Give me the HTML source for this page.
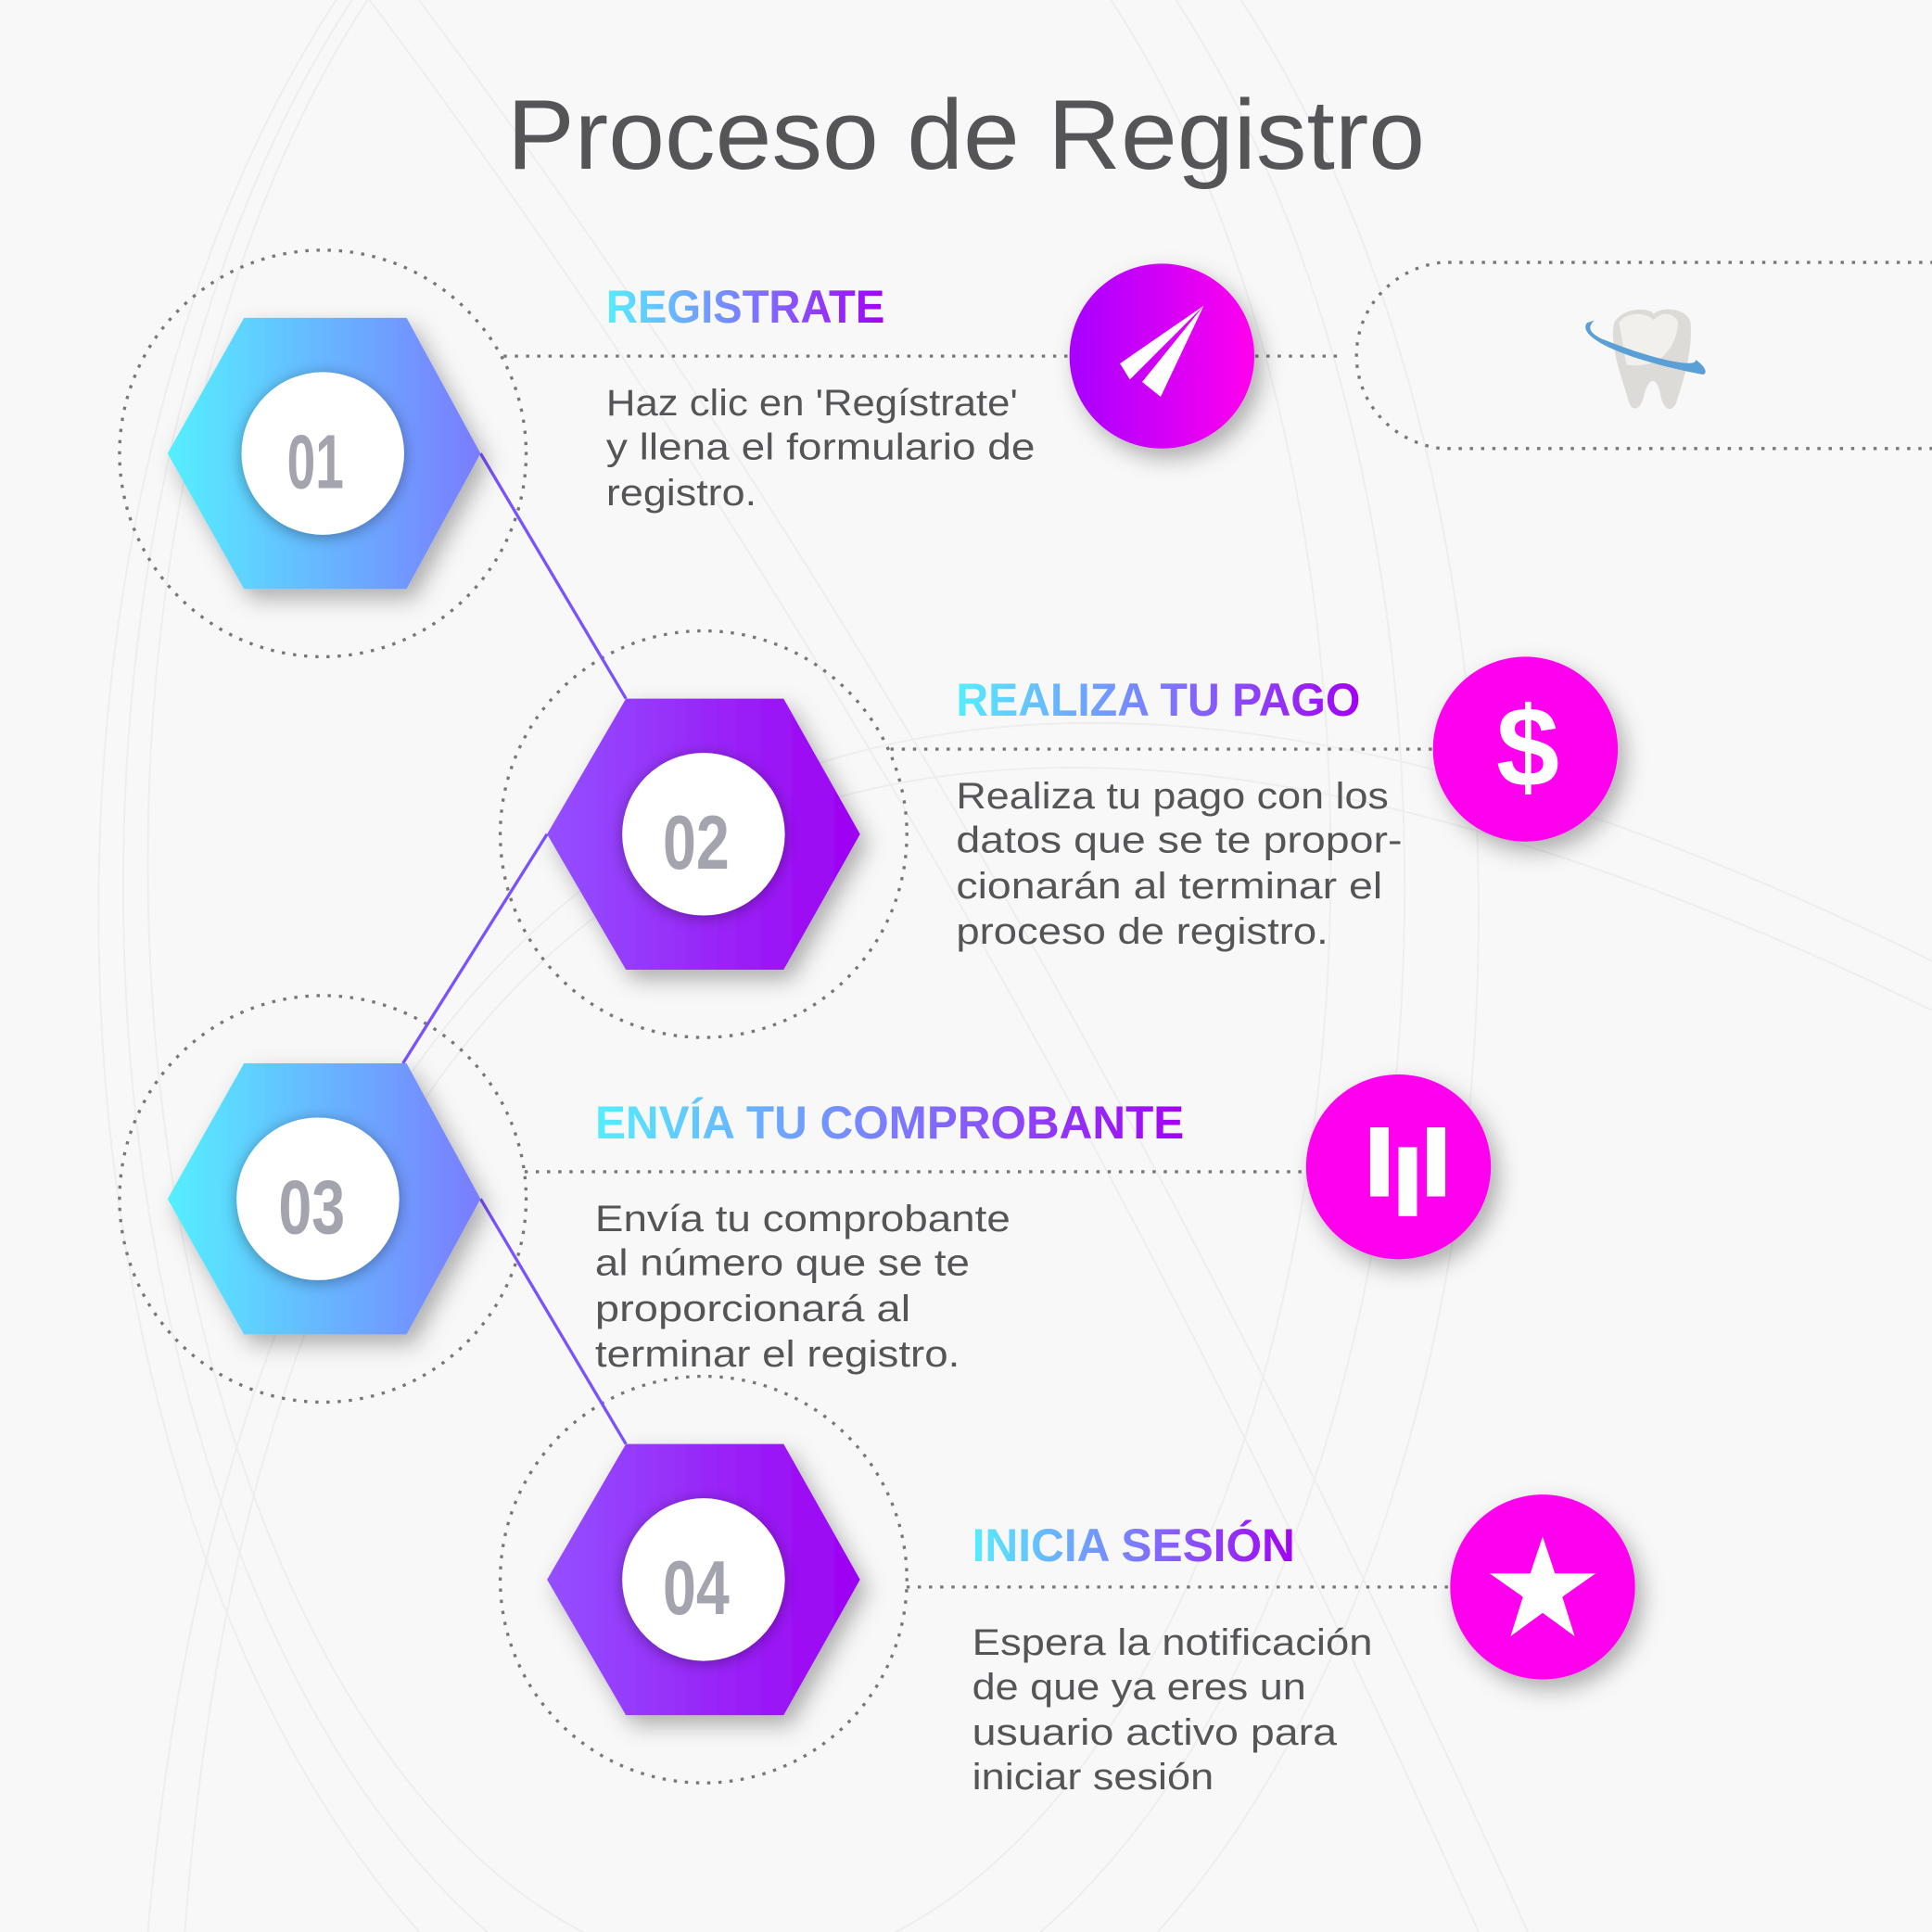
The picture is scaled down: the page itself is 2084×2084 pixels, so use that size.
<!DOCTYPE html>
<html><head><meta charset="utf-8">
<style>html,body{margin:0;padding:0;background:#f8f8f8;width:2084px;height:2084px;overflow:hidden;}svg{display:block;}</style>
</head><body>
<svg width="2084" height="2084" viewBox="0 0 1568 1568" xmlns="http://www.w3.org/2000/svg" font-family="Liberation Sans, DejaVu Sans, sans-serif">
<defs>
<linearGradient id="gb" x1="0" x2="1" y1="0" y2="0"><stop offset="0" stop-color="#55efff"/><stop offset="1" stop-color="#7a7cff"/></linearGradient>
<linearGradient id="gp" x1="0" x2="1" y1="0" y2="0"><stop offset="0" stop-color="#9350ff"/><stop offset="1" stop-color="#9e00f2"/></linearGradient>
<linearGradient id="gt" x1="0" x2="1" y1="0" y2="0"><stop offset="0" stop-color="#55eeff"/><stop offset="0.5" stop-color="#7b7cff"/><stop offset="1" stop-color="#a300f5"/></linearGradient>
<linearGradient id="gc" x1="0" x2="1" y1="0" y2="0"><stop offset="0" stop-color="#a800ff"/><stop offset="1" stop-color="#ff00ee"/></linearGradient>
<filter id="sh" x="-40%" y="-40%" width="180%" height="180%"><feDropShadow dx="6" dy="8" stdDeviation="9" flood-color="#000" flood-opacity="0.3"/></filter>
<filter id="sh2" x="-40%" y="-40%" width="180%" height="180%"><feDropShadow dx="0" dy="2" stdDeviation="6" flood-color="#000" flood-opacity="0.35"/></filter>
<linearGradient id="gt2" gradientUnits="userSpaceOnUse" x1="776" x2="1104"><stop offset="0" stop-color="#55eeff"/><stop offset="0.5" stop-color="#7b7cff"/><stop offset="1" stop-color="#a300f5"/></linearGradient>
<linearGradient id="gt3" gradientUnits="userSpaceOnUse" x1="483" x2="961"><stop offset="0" stop-color="#55eeff"/><stop offset="0.5" stop-color="#7b7cff"/><stop offset="1" stop-color="#a300f5"/></linearGradient>
<linearGradient id="gt4" gradientUnits="userSpaceOnUse" x1="789" x2="1051"><stop offset="0" stop-color="#55eeff"/><stop offset="0.5" stop-color="#7b7cff"/><stop offset="1" stop-color="#a300f5"/></linearGradient>
</defs>
<rect width="1568" height="1568" fill="#f8f8f8"/>
<g fill="none" stroke="#eeeeee" stroke-width="1.5">
<ellipse cx="600" cy="700" rx="480" ry="900"/>
<ellipse cx="620" cy="720" rx="520" ry="940"/>
<ellipse cx="640" cy="740" rx="560" ry="980"/>
<path d="M150 1568 C 200 900, 500 300, 1568 820"/>
<path d="M120 1568 C 180 880, 520 260, 1568 780"/>
<path d="M300 0 C 600 400, 900 900, 1200 1568"/>
<path d="M340 0 C 640 400, 940 900, 1240 1568"/>
</g>
<text x="784" y="137" text-anchor="middle" font-size="80" fill="#555558" textLength="745" lengthAdjust="spacingAndGlyphs">Proceso de Registro</text>

<g fill="none" stroke="#777" stroke-width="2.5" stroke-dasharray="0.1 9" stroke-linecap="square">
<circle cx="262" cy="368" r="165"/>
<circle cx="571" cy="677" r="165"/>
<circle cx="262" cy="973" r="165"/>
<circle cx="571" cy="1282" r="165"/>
<line x1="410" y1="289" x2="868" y2="289"/>
<line x1="1020" y1="289" x2="1092" y2="289"/>
<path d="M1568 213 L1170 213 A78 76 0 0 0 1170 364 L1568 364"/>
<line x1="724" y1="608" x2="1165" y2="608"/>
<line x1="427" y1="951" x2="1062" y2="951"/>
<line x1="737" y1="1288" x2="1178" y2="1288"/>
</g>

<g stroke="#7b52ff" stroke-width="2.5">
<line x1="390" y1="368" x2="508" y2="567"/>
<line x1="444" y1="677" x2="327" y2="863"/>
<line x1="390" y1="973" x2="508" y2="1172"/>
</g>

<g filter="url(#sh)">
<polygon points="136,368 198,258 330,258 390,368 330,478 198,478" fill="url(#gb)"/>
<polygon points="444,677 508,567 636,567 698,677 636,787 508,787" fill="url(#gp)"/>
<polygon points="136,973 198,863 330,863 390,973 330,1083 198,1083" fill="url(#gb)"/>
<polygon points="444,1282 508,1172 636,1172 698,1282 636,1392 508,1392" fill="url(#gp)"/>
</g>
<g filter="url(#sh2)" fill="#fff">
<circle cx="262" cy="368" r="66"/>
<circle cx="571" cy="677" r="66"/>
<circle cx="258" cy="973" r="66"/>
<circle cx="571" cy="1282" r="66"/>
</g>
<g fill="#a4a4ae" font-size="62" font-weight="bold" text-anchor="middle" font-family="Liberation Sans Narrow, Liberation Sans, sans-serif">
<text x="256" y="396" textLength="46" lengthAdjust="spacingAndGlyphs">01</text>
<text x="565" y="705" textLength="54" lengthAdjust="spacingAndGlyphs">02</text>
<text x="253" y="1001" textLength="54" lengthAdjust="spacingAndGlyphs">03</text>
<text x="565" y="1310" textLength="54" lengthAdjust="spacingAndGlyphs">04</text>
</g>

<g filter="url(#sh)">
<circle cx="943" cy="289" r="75" fill="url(#gc)"/>
<circle cx="1238" cy="608" r="75" fill="#ff00ee"/>
<circle cx="1135" cy="947" r="75" fill="#ff00ee"/>
<circle cx="1252" cy="1288" r="75" fill="#ff00ee"/>
</g>
<g fill="#fff">
<polygon points="977,248 909,295 917,308 965,260"/>
<polygon points="977,248 942,322 927,310"/>
<rect x="1112" y="915" width="15" height="56"/>
<rect x="1135" y="931" width="15" height="56"/>
<rect x="1158" y="915" width="15" height="56"/>
<polygon points="1252,1247 1262,1277 1295,1277 1268,1296 1278,1328 1252,1309 1226,1328 1236,1296 1209,1277 1242,1277"/>
</g>
<text x="1240" y="638" text-anchor="middle" font-size="92" font-weight="bold" fill="#fff">$</text>

<g>
<path d="M1310 262 C1318 248 1340 250 1342 255 C1348 248 1370 250 1372 262 C1374 285 1366 310 1360 328 C1356 335 1350 332 1348 322 C1345 305 1338 305 1334 322 C1331 334 1324 334 1322 326 C1316 306 1306 280 1310 262 Z" fill="#dcdbd8"/>
<path d="M1314 262 C1320 252 1338 254 1342 260 C1348 252 1360 254 1362 262 C1360 285 1345 300 1320 296 Z" fill="#f1f0ec"/>
<path d="M1288 262 C1280 272 1310 290 1382 304 C1388 302 1380 294 1376 292 C1378 298 1350 295 1300 275 C1290 270 1288 266 1294 260 Z" fill="#5aa0d6"/>
</g>

<text x="492" y="262" font-size="38" font-weight="bold" fill="url(#gt)" textLength="226" lengthAdjust="spacingAndGlyphs">REGISTRATE</text>
<g font-weight="bold" font-size="38">
<text x="776" y="581" fill="url(#gt2)" textLength="328" lengthAdjust="spacingAndGlyphs">REALIZA TU PAGO</text>
<text x="483" y="924" fill="url(#gt3)" textLength="478" lengthAdjust="spacingAndGlyphs">ENVÍA TU COMPROBANTE</text>
<text x="789" y="1267" fill="url(#gt4)" textLength="262" lengthAdjust="spacingAndGlyphs">INICIA SESIÓN</text>
</g>

<g font-size="30" fill="#555558">
<text x="492" y="337" textLength="334" lengthAdjust="spacingAndGlyphs">Haz clic en 'Regístrate'</text>
<text x="492" y="373" textLength="348" lengthAdjust="spacingAndGlyphs">y llena el formulario de</text>
<text x="492" y="410" textLength="122" lengthAdjust="spacingAndGlyphs">registro.</text>

<text x="776" y="656" textLength="351" lengthAdjust="spacingAndGlyphs">Realiza tu pago con los</text>
<text x="776" y="692" textLength="362" lengthAdjust="spacingAndGlyphs">datos que se te propor-</text>
<text x="776" y="729" textLength="346" lengthAdjust="spacingAndGlyphs">cionarán al terminar el</text>
<text x="776" y="766" textLength="302" lengthAdjust="spacingAndGlyphs">proceso de registro.</text>

<text x="483" y="999" textLength="337" lengthAdjust="spacingAndGlyphs">Envía tu comprobante</text>
<text x="483" y="1035" textLength="304" lengthAdjust="spacingAndGlyphs">al número que se te</text>
<text x="483" y="1072" textLength="256" lengthAdjust="spacingAndGlyphs">proporcionará al</text>
<text x="483" y="1109" textLength="296" lengthAdjust="spacingAndGlyphs">terminar el registro.</text>

<text x="789" y="1343" textLength="325" lengthAdjust="spacingAndGlyphs">Espera la notificación</text>
<text x="789" y="1379" textLength="271" lengthAdjust="spacingAndGlyphs">de que ya eres un</text>
<text x="789" y="1416" textLength="296" lengthAdjust="spacingAndGlyphs">usuario activo para</text>
<text x="789" y="1452" textLength="196" lengthAdjust="spacingAndGlyphs">iniciar sesión</text>
</g>
</svg>
</body></html>
